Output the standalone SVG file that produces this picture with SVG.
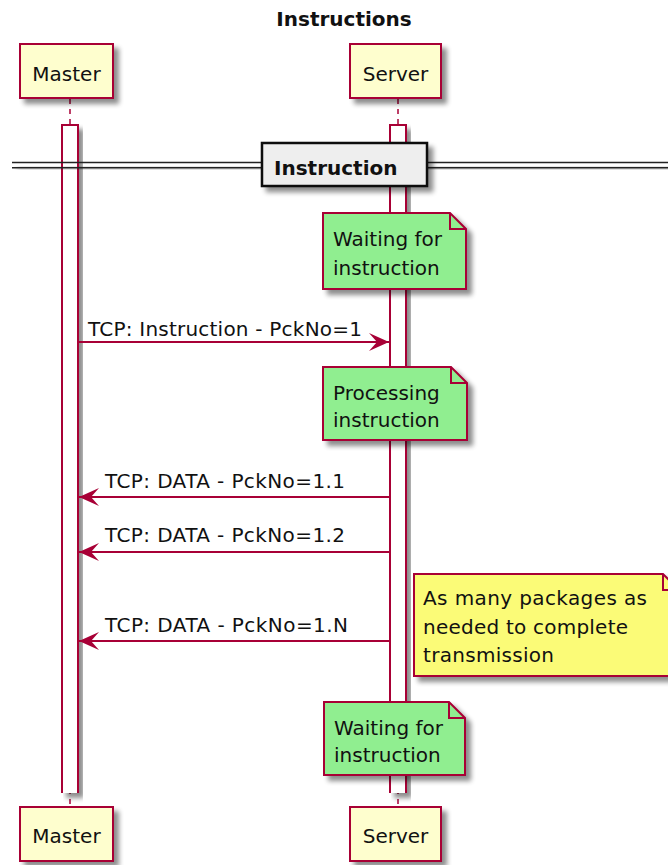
<svg xmlns="http://www.w3.org/2000/svg" width="668" height="865" viewBox="0 0 668 865">
  <defs>
    <filter id="shadow" x="-20%" y="-20%" width="150%" height="150%">
      <feGaussianBlur in="SourceAlpha" stdDeviation="2.5"/>
      <feOffset dx="5" dy="5" result="off"/>
      <feComponentTransfer><feFuncA type="linear" slope="0.45"/></feComponentTransfer>
      <feMerge><feMergeNode/><feMergeNode in="SourceGraphic"/></feMerge>
    </filter>
    <marker id="head" viewBox="0 0 20 18" refX="20" refY="9" markerWidth="20" markerHeight="18" markerUnits="userSpaceOnUse" orient="auto">
      <path d="M0,0 L20,9 L0,18 L8,9 Z" fill="#A80036"/>
    </marker>
    <style>
      text { font-family: "DejaVu Sans", Verdana, sans-serif; fill: #111; }
      .title { font-size: 20px; font-weight: bold; }
      .part rect { fill: #FEFECE; stroke: #A80036; stroke-width: 2; }
      .part text { font-size: 20px; }
      .life { stroke: #A80036; stroke-width: 1.5; stroke-dasharray: 5 5; }
      .act { fill: #FFFFFF; stroke: #A80036; stroke-width: 2; }
      .msg { stroke: #A80036; stroke-width: 2; fill: none; marker-end: url(#head); }
      .lbl { font-size: 20px; }
      .note path { stroke: #A80036; stroke-width: 2; }
      .note .fold { fill: none; }
      .note text { font-size: 20px; }
      .green { fill: #90EE90; }
      .yellow { fill: #FBFB77; }
      .div-line { stroke: #222; stroke-width: 1.6; }
      .div-box { fill: #EEEEEE; stroke: #111; stroke-width: 2.5; }
    </style>
  </defs>

  <rect width="668" height="865" fill="#FFFFFF"/>

  <text class="title" x="344" y="26" text-anchor="middle">Instructions</text>

  <!-- lifelines -->
  <g id="lifelines">
    <line class="life" x1="70" y1="99" x2="70" y2="807"/>
    <line class="life" x1="398" y1="99" x2="398" y2="807"/>
  </g>

  <!-- participants, top and bottom -->
  <g id="master" class="part">
    <rect x="20" y="44" width="93" height="54" filter="url(#shadow)"/>
    <text x="66.5" y="81" text-anchor="middle">Master</text>
    <rect x="20" y="807" width="93" height="54" filter="url(#shadow)"/>
    <text x="66.5" y="843" text-anchor="middle">Master</text>
  </g>
  <g id="server" class="part">
    <rect x="350" y="44" width="91" height="54" filter="url(#shadow)"/>
    <text x="395.5" y="81" text-anchor="middle">Server</text>
    <rect x="350" y="807" width="91" height="54" filter="url(#shadow)"/>
    <text x="395.5" y="843" text-anchor="middle">Server</text>
  </g>

  <!-- activation bars (open at the bottom, running past the last message) -->
  <g id="activations">
    <path class="act" d="M62,793 V125 H78 V793" filter="url(#shadow)"/>
    <path class="act" d="M390,793 V125 H406 V793" filter="url(#shadow)"/>
  </g>

  <!-- section divider -->
  <g id="divider">
    <g filter="url(#shadow)">
      <line class="div-line" x1="12" y1="162.5" x2="668" y2="162.5"/>
      <line class="div-line" x1="12" y1="167.7" x2="668" y2="167.7"/>
    </g>
    <rect class="div-box" x="262" y="143" width="165" height="43" filter="url(#shadow)"/>
    <text x="274" y="175" style="font-size:20px;font-weight:bold">Instruction</text>
  </g>

  <!-- notes -->
  <g id="note-waiting-1" class="note">
    <path class="green" d="M323,213 H450 L466,229 V289 H323 Z" filter="url(#shadow)"/>
    <path class="fold" d="M450,213 V229 H466"/>
    <text x="333" y="246">Waiting for</text>
    <text x="333" y="275">instruction</text>
  </g>
  <g id="note-processing" class="note">
    <path class="green" d="M323,367 H451 L467,383 V440 H323 Z" filter="url(#shadow)"/>
    <path class="fold" d="M451,367 V383 H467"/>
    <text x="333" y="400">Processing</text>
    <text x="333" y="427">instruction</text>
  </g>
  <g id="note-packages" class="note">
    <path class="yellow" d="M414,574 H663 L679,590 V676 H414 Z" filter="url(#shadow)"/>
    <path class="fold" d="M663,574 V590 H679"/>
    <text x="423" y="605" textLength="224">As many packages as</text>
    <text x="423" y="634" textLength="205">needed to complete</text>
    <text x="423" y="662" textLength="131">transmission</text>
  </g>
  <g id="note-waiting-2" class="note">
    <path class="green" d="M324,702 H449 L465,718 V775 H324 Z" filter="url(#shadow)"/>
    <path class="fold" d="M449,702 V718 H465"/>
    <text x="334" y="735">Waiting for</text>
    <text x="334" y="762">instruction</text>
  </g>

  <!-- messages -->
  <g id="connectors">
    <line class="msg" x1="78" y1="342" x2="389" y2="342"/>
    <text class="lbl" x="88" y="336" textLength="274">TCP: Instruction - PckNo=1</text>
    <line class="msg" x1="390" y1="497" x2="79" y2="497"/>
    <text class="lbl" x="105" y="488" textLength="240">TCP: DATA - PckNo=1.1</text>
    <line class="msg" x1="390" y1="552" x2="79" y2="552"/>
    <text class="lbl" x="105" y="542" textLength="240">TCP: DATA - PckNo=1.2</text>
    <line class="msg" x1="390" y1="641" x2="79" y2="641"/>
    <text class="lbl" x="105" y="632" textLength="243">TCP: DATA - PckNo=1.N</text>
  </g>
</svg>
